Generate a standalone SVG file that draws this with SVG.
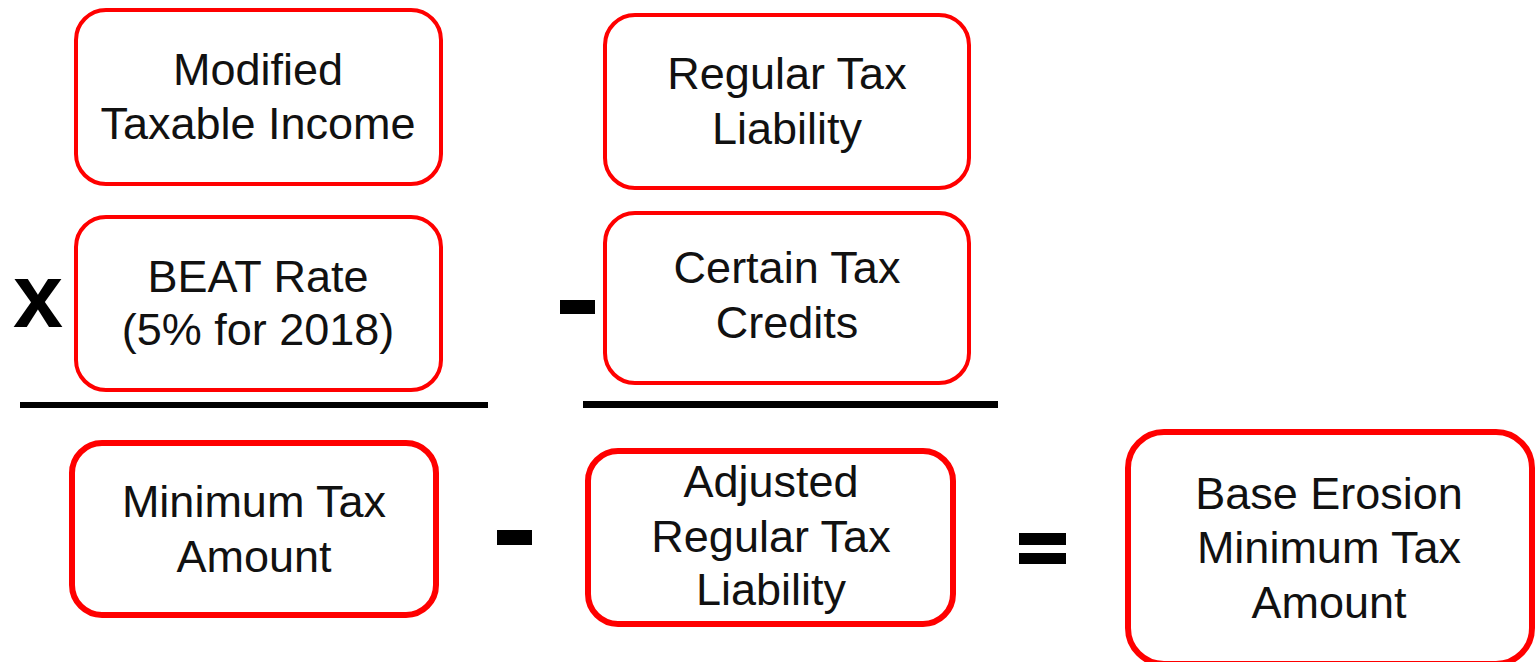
<svg xmlns="http://www.w3.org/2000/svg" width="1536" height="662" viewBox="0 0 1536 662">
<style>
.box{fill:#fff;stroke:#ff0000;}
.thin{stroke-width:4;}
.thick{stroke-width:6;}
.t{font-family:"Liberation Sans",Arial,sans-serif;font-size:45px;fill:#111;text-anchor:middle;}
.op{fill:#000;}
</style>
<rect width="1536" height="662" fill="#fff"/>
<g id="connectors">
<rect x="20" y="402" width="468" height="6" class="op"/>
<rect x="583" y="401" width="415" height="7" class="op"/>
<text x="38" y="327" font-family="Liberation Sans,Arial,sans-serif" font-size="90" font-weight="bold" text-anchor="middle" fill="#000">x</text>
<rect x="560" y="300" width="35" height="14" class="op"/>
<rect x="497" y="530" width="35" height="15" class="op"/>
<rect x="1019" y="533" width="47" height="12" class="op"/>
<rect x="1019" y="553" width="47" height="11" class="op"/>
</g>
<g id="modified-taxable-income">
<rect class="box thin" x="76" y="10" width="365" height="174" rx="30"/>
<text class="t" x="258" y="85">Modified</text>
<text class="t" x="258" y="139">Taxable Income</text>
</g>
<g id="beat-rate">
<rect class="box thin" x="76" y="217" width="365" height="173" rx="30"/>
<text class="t" x="258" y="292">BEAT Rate</text>
<text class="t" x="258" y="345">(5% for 2018)</text>
</g>
<g id="regular-tax-liability">
<rect class="box thin" x="605" y="15" width="364" height="173" rx="30"/>
<text class="t" x="787" y="89">Regular Tax</text>
<text class="t" x="787" y="144">Liability</text>
</g>
<g id="certain-tax-credits">
<rect class="box thin" x="605" y="213" width="364" height="170" rx="30"/>
<text class="t" x="787" y="283">Certain Tax</text>
<text class="t" x="787" y="338">Credits</text>
</g>
<g id="minimum-tax-amount">
<rect class="box thick" x="72" y="443" width="364" height="172" rx="30"/>
<text class="t" x="254" y="517">Minimum Tax</text>
<text class="t" x="254" y="572">Amount</text>
</g>
<g id="adjusted-regular-tax-liability">
<rect class="box thick" x="588" y="451" width="365" height="173" rx="30"/>
<text class="t" x="771" y="497">Adjusted</text>
<text class="t" x="771" y="552">Regular Tax</text>
<text class="t" x="771" y="605">Liability</text>
</g>
<g id="base-erosion-minimum-tax-amount">
<rect class="box thick" x="1128" y="432" width="404" height="232" rx="36"/>
<text class="t" x="1329" y="509">Base Erosion</text>
<text class="t" x="1329" y="563">Minimum Tax</text>
<text class="t" x="1329" y="618">Amount</text>
</g>
</svg>
